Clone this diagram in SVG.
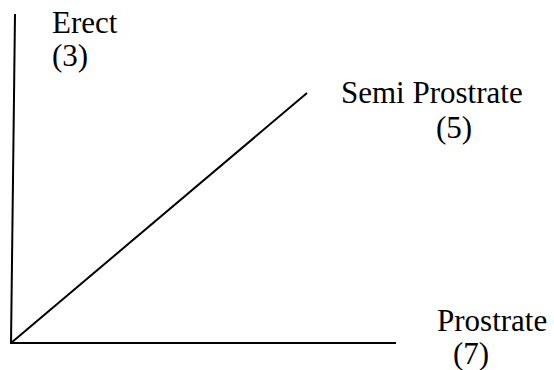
<svg xmlns="http://www.w3.org/2000/svg" width="554" height="370" viewBox="0 0 554 370">
<style>
.l{stroke:#000;stroke-width:2;fill:none}
text{font-family:"Liberation Serif","Times New Roman",serif;font-size:31px;fill:#000}
</style>
<rect width="554" height="370" fill="#fff"/>
<g id="connectors">
<line class="l" x1="15" y1="14" x2="11" y2="344"/>
<line class="l" x1="11" y1="343" x2="396" y2="343"/>
<line class="l" x1="11" y1="343" x2="307" y2="93"/>
</g>
<g id="erect"><text x="52" y="33">Erect</text><text x="52" y="66">(3)</text></g>
<g id="semi"><text x="341" y="103">Semi Prostrate</text><text x="436" y="138">(5)</text></g>
<g id="prostrate"><text x="437" y="331">Prostrate</text><text x="453" y="364">(7)</text></g>
</svg>
